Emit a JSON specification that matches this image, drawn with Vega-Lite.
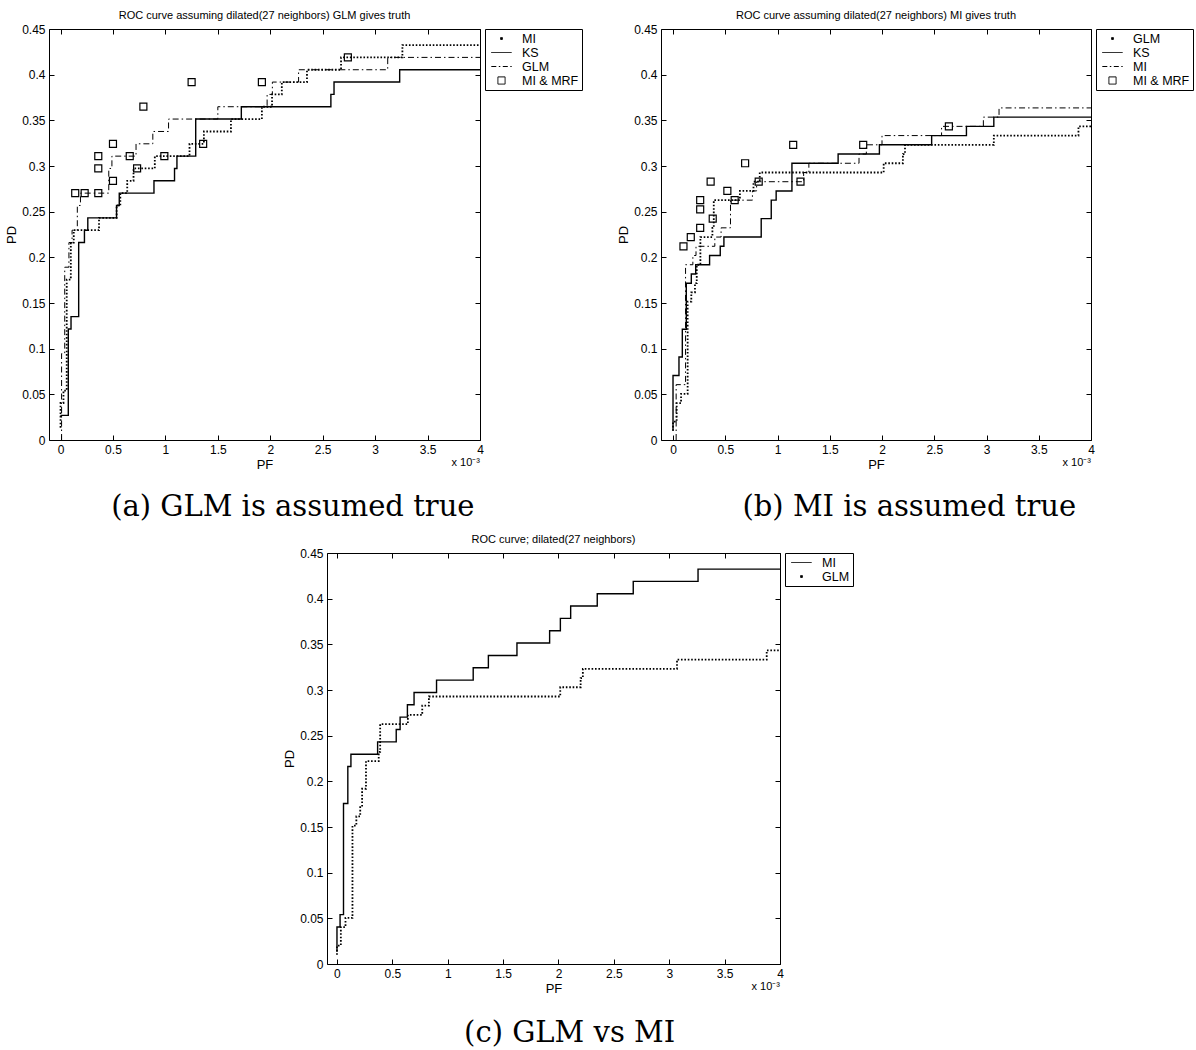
{
  "$schema": "https://vega.github.io/schema/vega-lite/v6.json",
  "background": "white",
  "padding": {"left": 5, "top": 9, "right": 0, "bottom": 0},
  "datasets": {
    "mi74": [{"pf":0,"pd":0.0135},{"pf":0,"pd":0.0405},{"pf":0.028,"pd":0.0541},{"pf":0.059,"pd":0.1757},{"pf":0.098,"pd":0.2162},{"pf":0.126,"pd":0.2297},{"pf":0.367,"pd":0.2432},{"pf":0.535,"pd":0.2568},{"pf":0.57,"pd":0.2703},{"pf":0.636,"pd":0.2838},{"pf":0.696,"pd":0.2973},{"pf":0.899,"pd":0.3108},{"pf":1.23,"pd":0.3243},{"pf":1.367,"pd":0.3378},{"pf":1.625,"pd":0.3514},{"pf":1.92,"pd":0.3649},{"pf":2.017,"pd":0.3784},{"pf":2.11,"pd":0.3919},{"pf":2.35,"pd":0.4054},{"pf":2.675,"pd":0.4189},{"pf":3.26,"pd":0.4324},{"pf":4,"pd":0.4324}],
    "glm99": [{"pf":0,"pd":0.0101},{"pf":0,"pd":0.0202},{"pf":0.035,"pd":0.0404},{"pf":0.077,"pd":0.0505},{"pf":0.14,"pd":0.1515},{"pf":0.175,"pd":0.1616},{"pf":0.21,"pd":0.1717},{"pf":0.227,"pd":0.1919},{"pf":0.262,"pd":0.2222},{"pf":0.377,"pd":0.2323},{"pf":0.39,"pd":0.2626},{"pf":0.64,"pd":0.2727},{"pf":0.77,"pd":0.2828},{"pf":0.83,"pd":0.2929},{"pf":2.016,"pd":0.303},{"pf":2.2,"pd":0.3131},{"pf":2.22,"pd":0.3232},{"pf":3.07,"pd":0.3333},{"pf":3.88,"pd":0.3434},{"pf":4,"pd":0.3434}],
    "ks_a": [{"pf":0,"pd":0.027},{"pf":0.074,"pd":0.1216},{"pf":0.1,"pd":0.1351},{"pf":0.173,"pd":0.2162},{"pf":0.228,"pd":0.2297},{"pf":0.26,"pd":0.2432},{"pf":0.534,"pd":0.2568},{"pf":0.56,"pd":0.2703},{"pf":0.891,"pd":0.2838},{"pf":1.087,"pd":0.2973},{"pf":1.11,"pd":0.3108},{"pf":1.289,"pd":0.3514},{"pf":1.724,"pd":0.3649},{"pf":2.578,"pd":0.3784},{"pf":2.608,"pd":0.3919},{"pf":3.234,"pd":0.4054},{"pf":4,"pd":0.4054}],
    "glm_a": [{"pf":0.01,"pd":0},{"pf":0.01,"pd":0.0946},{"pf":0.04,"pd":0.1892},{"pf":0.08,"pd":0.2162},{"pf":0.11,"pd":0.2297},{"pf":0.16,"pd":0.2568},{"pf":0.19,"pd":0.2703},{"pf":0.46,"pd":0.2973},{"pf":0.49,"pd":0.3108},{"pf":0.72,"pd":0.3243},{"pf":0.88,"pd":0.3378},{"pf":1.03,"pd":0.3514},{"pf":1.5,"pd":0.3649},{"pf":1.97,"pd":0.3784},{"pf":2.02,"pd":0.3919},{"pf":2.27,"pd":0.4054},{"pf":3.12,"pd":0.4189},{"pf":4,"pd":0.4189}],
    "mrf_a": [{"pf":0.14,"pd":0.2703},{"pf":0.23,"pd":0.2703},{"pf":0.36,"pd":0.2703},{"pf":0.36,"pd":0.2973},{"pf":0.36,"pd":0.3108},{"pf":0.5,"pd":0.3243},{"pf":0.5,"pd":0.2838},{"pf":0.66,"pd":0.3108},{"pf":0.73,"pd":0.2973},{"pf":0.79,"pd":0.3649},{"pf":0.99,"pd":0.3108},{"pf":1.25,"pd":0.3919},{"pf":1.36,"pd":0.3243},{"pf":1.92,"pd":0.3919},{"pf":2.74,"pd":0.4189}],
    "ks_b": [{"pf":0,"pd":0.0101},{"pf":0,"pd":0.0707},{"pf":0.057,"pd":0.0909},{"pf":0.089,"pd":0.1212},{"pf":0.127,"pd":0.1717},{"pf":0.175,"pd":0.1818},{"pf":0.217,"pd":0.1919},{"pf":0.35,"pd":0.202},{"pf":0.452,"pd":0.2121},{"pf":0.487,"pd":0.2222},{"pf":0.844,"pd":0.2424},{"pf":0.94,"pd":0.2626},{"pf":0.987,"pd":0.2727},{"pf":1.138,"pd":0.303},{"pf":1.58,"pd":0.3131},{"pf":1.975,"pd":0.3232},{"pf":2.475,"pd":0.3333},{"pf":2.808,"pd":0.3434},{"pf":3.07,"pd":0.3535},{"pf":4,"pd":0.3535}],
    "mi_b": [{"pf":0.03,"pd":0},{"pf":0.03,"pd":0.0606},{"pf":0.12,"pd":0.1919},{"pf":0.19,"pd":0.202},{"pf":0.22,"pd":0.2121},{"pf":0.4,"pd":0.2222},{"pf":0.46,"pd":0.2323},{"pf":0.55,"pd":0.2626},{"pf":0.76,"pd":0.2727},{"pf":0.8,"pd":0.2828},{"pf":1.25,"pd":0.2929},{"pf":1.3,"pd":0.303},{"pf":1.78,"pd":0.3131},{"pf":1.85,"pd":0.3232},{"pf":2.0,"pd":0.3333},{"pf":2.57,"pd":0.3434},{"pf":2.97,"pd":0.3535},{"pf":3.12,"pd":0.3636},{"pf":4,"pd":0.3636}],
    "mrf_b": [{"pf":0.1,"pd":0.2121},{"pf":0.17,"pd":0.2222},{"pf":0.26,"pd":0.2323},{"pf":0.26,"pd":0.2525},{"pf":0.26,"pd":0.2626},{"pf":0.36,"pd":0.2828},{"pf":0.38,"pd":0.2424},{"pf":0.52,"pd":0.2727},{"pf":0.59,"pd":0.2626},{"pf":0.69,"pd":0.303},{"pf":0.82,"pd":0.2828},{"pf":1.15,"pd":0.3232},{"pf":1.22,"pd":0.2828},{"pf":1.82,"pd":0.3232},{"pf":2.64,"pd":0.3434}]
  },
  "vconcat": [
    {
      "hconcat": [
        {
          "vconcat": [
            {
              "width": 431, "height": 411,
              "title": {"text": "ROC curve assuming dilated(27 neighbors) GLM gives truth", "anchor": "middle", "frame": "group", "offset": 2},
              "layer": [
                {
                  "data": {"name": "ks_a"},
                  "mark": {"type": "line", "interpolate": "step-after", "strokeWidth": 1.4},
                  "encoding": {
                    "x": {"field": "pf", "type": "quantitative", "scale": {"domain": [-0.11, 4], "nice": false, "zero": false}, "axis": {"orient": "bottom", "values": [0,0.5,1,1.5,2,2.5,3,3.5,4], "format": "~g", "title": "PF"}},
                    "y": {"field": "pd", "type": "quantitative", "scale": {"domain": [0, 0.45], "nice": false}, "axis": {"orient": "left", "values": [0,0.05,0.1,0.15,0.2,0.25,0.3,0.35,0.4,0.45], "format": "~g", "title": "PD"}},
                    "color": {"datum": "KS", "scale": {"domain": ["MI","KS","GLM","MI & MRF"], "range": ["black","black","black","black"]},
                      "legend": {"title": null, "orient": "right", "offset": 0,
                        "encode": {"symbols": {"update": {
                          "shape": {"signal": "datum.value === 'MI' ? 'M-0.15,-0.15H0.15V0.15H-0.15Z' : datum.value === 'MI & MRF' ? 'M-0.6,-0.6H0.6V0.6H-0.6Z' : 'M-1.7,0H1.7'"},
                          "fill": {"signal": "datum.value === 'MI' ? 'black' : 'transparent'"},
                          "strokeDash": {"signal": "datum.value === 'GLM' ? [5,2.5,1.5,2.5] : [1,0]"},
                          "stroke": {"value": "black"},
                          "strokeWidth": {"value": 1},
                          "opacity": {"value": 1}
                        }}}}}
                  }
                },
                {
                  "data": {"name": "glm_a"},
                  "mark": {"type": "line", "interpolate": "step-after", "strokeWidth": 1, "strokeDash": [6, 3, 1.5, 3]},
                  "encoding": {
                    "x": {"field": "pf", "type": "quantitative", "scale": {"domain": [-0.11, 4], "nice": false, "zero": false}, "axis": {"orient": "top", "values": [0,0.5,1,1.5,2,2.5,3,3.5,4], "labels": false, "title": null}},
                    "y": {"field": "pd", "type": "quantitative", "scale": {"domain": [0, 0.45], "nice": false}, "axis": {"orient": "right", "values": [0,0.05,0.1,0.15,0.2,0.25,0.3,0.35,0.4,0.45], "labels": false, "title": null}},
                    "color": {"datum": "GLM"}
                  }
                },
                {
                  "data": {"name": "mi74"},
                  "mark": {"type": "line", "interpolate": "step-after", "strokeWidth": 1.8, "strokeDash": [1.6, 1.8]},
                  "encoding": {
                    "x": {"field": "pf", "type": "quantitative", "axis": null},
                    "y": {"field": "pd", "type": "quantitative", "axis": null},
                    "color": {"datum": "MI"}
                  }
                },
                {
                  "data": {"name": "mrf_a"},
                  "mark": {"type": "point", "shape": "square", "filled": false, "size": 49, "strokeWidth": 1.2, "opacity": 1},
                  "encoding": {
                    "x": {"field": "pf", "type": "quantitative", "axis": null},
                    "y": {"field": "pd", "type": "quantitative", "axis": null},
                    "color": {"datum": "MI & MRF"}
                  }
                },
                {
                  "data": {"values": [{}]},
                  "mark": {"type": "text", "align": "right", "baseline": "top", "dy": 17, "fontSize": 11, "color": "black"},
                  "encoding": {
                    "x": {"datum": 4, "type": "quantitative", "axis": null},
                    "y": {"datum": 0, "type": "quantitative", "axis": null},
                    "text": {"value": "x 10⁻³"}
                  }
                }
              ],
              "resolve": {"axis": {"x": "independent", "y": "independent"}}
            }
          ],
          "title": {"text": "(a) GLM is assumed true", "orient": "bottom", "anchor": "middle", "font": "DejaVu Serif", "fontSize": 29, "fontWeight": "normal", "offset": 21, "dx": -1, "color": "black"}
        },
        {
          "vconcat": [
            {
              "width": 430, "height": 411,
              "title": {"text": "ROC curve assuming dilated(27 neighbors) MI gives truth", "anchor": "middle", "frame": "group", "offset": 2},
              "layer": [
                {
                  "data": {"name": "ks_b"},
                  "mark": {"type": "line", "interpolate": "step-after", "strokeWidth": 1.4},
                  "encoding": {
                    "x": {"field": "pf", "type": "quantitative", "scale": {"domain": [-0.115, 4], "nice": false, "zero": false}, "axis": {"orient": "bottom", "values": [0,0.5,1,1.5,2,2.5,3,3.5,4], "format": "~g", "title": "PF"}},
                    "y": {"field": "pd", "type": "quantitative", "scale": {"domain": [0, 0.45], "nice": false}, "axis": {"orient": "left", "values": [0,0.05,0.1,0.15,0.2,0.25,0.3,0.35,0.4,0.45], "format": "~g", "title": "PD"}},
                    "color": {"datum": "KS", "scale": {"domain": ["GLM","KS","MI","MI & MRF"], "range": ["black","black","black","black"]},
                      "legend": {"title": null, "orient": "right", "offset": 0,
                        "encode": {"symbols": {"update": {
                          "shape": {"signal": "datum.value === 'GLM' ? 'M-0.15,-0.15H0.15V0.15H-0.15Z' : datum.value === 'MI & MRF' ? 'M-0.6,-0.6H0.6V0.6H-0.6Z' : 'M-1.7,0H1.7'"},
                          "fill": {"signal": "datum.value === 'GLM' ? 'black' : 'transparent'"},
                          "strokeDash": {"signal": "datum.value === 'MI' ? [5,2.5,1.5,2.5] : [1,0]"},
                          "stroke": {"value": "black"},
                          "strokeWidth": {"value": 1},
                          "opacity": {"value": 1}
                        }}}}}
                  }
                },
                {
                  "data": {"name": "mi_b"},
                  "mark": {"type": "line", "interpolate": "step-after", "strokeWidth": 1, "strokeDash": [6, 3, 1.5, 3]},
                  "encoding": {
                    "x": {"field": "pf", "type": "quantitative", "scale": {"domain": [-0.115, 4], "nice": false, "zero": false}, "axis": {"orient": "top", "values": [0,0.5,1,1.5,2,2.5,3,3.5,4], "labels": false, "title": null}},
                    "y": {"field": "pd", "type": "quantitative", "scale": {"domain": [0, 0.45], "nice": false}, "axis": {"orient": "right", "values": [0,0.05,0.1,0.15,0.2,0.25,0.3,0.35,0.4,0.45], "labels": false, "title": null}},
                    "color": {"datum": "MI"}
                  }
                },
                {
                  "data": {"name": "glm99"},
                  "mark": {"type": "line", "interpolate": "step-after", "strokeWidth": 1.8, "strokeDash": [1.6, 1.8]},
                  "encoding": {
                    "x": {"field": "pf", "type": "quantitative", "axis": null},
                    "y": {"field": "pd", "type": "quantitative", "axis": null},
                    "color": {"datum": "GLM"}
                  }
                },
                {
                  "data": {"name": "mrf_b"},
                  "mark": {"type": "point", "shape": "square", "filled": false, "size": 49, "strokeWidth": 1.2, "opacity": 1},
                  "encoding": {
                    "x": {"field": "pf", "type": "quantitative", "axis": null},
                    "y": {"field": "pd", "type": "quantitative", "axis": null},
                    "color": {"datum": "MI & MRF"}
                  }
                },
                {
                  "data": {"values": [{}]},
                  "mark": {"type": "text", "align": "right", "baseline": "top", "dy": 17, "fontSize": 11, "color": "black"},
                  "encoding": {
                    "x": {"datum": 4, "type": "quantitative", "axis": null},
                    "y": {"datum": 0, "type": "quantitative", "axis": null},
                    "text": {"value": "x 10⁻³"}
                  }
                }
              ],
              "resolve": {"axis": {"x": "independent", "y": "independent"}}
            }
          ],
          "title": {"text": "(b) MI is assumed true", "orient": "bottom", "anchor": "middle", "font": "DejaVu Serif", "fontSize": 29, "fontWeight": "normal", "offset": 21, "dx": 4, "color": "black"}
        }
      ],
      "spacing": 34,
      "resolve": {"scale": {"color": "independent"}, "legend": {"color": "independent"}}
    },
    {
      "hconcat": [
        {
          "width": 234, "height": 1,
          "data": {"values": [{"pf": 0}]},
          "mark": {"type": "text", "text": ""},
          "encoding": {}
        },
        {
          "vconcat": [
            {
              "width": 453, "height": 411,
              "title": {"text": "ROC curve; dilated(27 neighbors)", "anchor": "middle", "frame": "group", "offset": 2},
              "layer": [
                {
                  "data": {"name": "mi74"},
                  "mark": {"type": "line", "interpolate": "step-after", "strokeWidth": 1.4},
                  "encoding": {
                    "x": {"field": "pf", "type": "quantitative", "scale": {"domain": [-0.09, 4], "nice": false, "zero": false}, "axis": {"orient": "bottom", "values": [0,0.5,1,1.5,2,2.5,3,3.5,4], "format": "~g", "title": "PF"}},
                    "y": {"field": "pd", "type": "quantitative", "scale": {"domain": [0, 0.45], "nice": false}, "axis": {"orient": "left", "values": [0,0.05,0.1,0.15,0.2,0.25,0.3,0.35,0.4,0.45], "format": "~g", "title": "PD"}},
                    "color": {"datum": "MI", "scale": {"domain": ["MI","GLM"], "range": ["black","black"]},
                      "legend": {"title": null, "orient": "right", "offset": 0,
                        "encode": {"symbols": {"update": {
                          "shape": {"signal": "datum.value === 'GLM' ? 'M-0.15,-0.15H0.15V0.15H-0.15Z' : 'M-1.7,0H1.7'"},
                          "fill": {"signal": "datum.value === 'GLM' ? 'black' : 'transparent'"},
                          "strokeDash": {"value": [1, 0]},
                          "stroke": {"value": "black"},
                          "strokeWidth": {"value": 1},
                          "opacity": {"value": 1}
                        }}}}}
                  }
                },
                {
                  "data": {"name": "glm99"},
                  "mark": {"type": "line", "interpolate": "step-after", "strokeWidth": 1.8, "strokeDash": [1.6, 1.8]},
                  "encoding": {
                    "x": {"field": "pf", "type": "quantitative", "scale": {"domain": [-0.09, 4], "nice": false, "zero": false}, "axis": {"orient": "top", "values": [0,0.5,1,1.5,2,2.5,3,3.5,4], "labels": false, "title": null}},
                    "y": {"field": "pd", "type": "quantitative", "scale": {"domain": [0, 0.45], "nice": false}, "axis": {"orient": "right", "values": [0,0.05,0.1,0.15,0.2,0.25,0.3,0.35,0.4,0.45], "labels": false, "title": null}},
                    "color": {"datum": "GLM"}
                  }
                },
                {
                  "data": {"values": [{}]},
                  "mark": {"type": "text", "align": "right", "baseline": "top", "dy": 17, "fontSize": 11, "color": "black"},
                  "encoding": {
                    "x": {"datum": 4, "type": "quantitative", "axis": null},
                    "y": {"datum": 0, "type": "quantitative", "axis": null},
                    "text": {"value": "x 10⁻³"}
                  }
                }
              ],
              "resolve": {"axis": {"x": "independent", "y": "independent"}}
            }
          ],
          "title": {"text": "(c) GLM vs MI", "orient": "bottom", "anchor": "middle", "font": "DejaVu Serif", "fontSize": 29, "fontWeight": "normal", "offset": 23, "dx": 36, "color": "black"}
        }
      ],
      "spacing": 0
    }
  ],
  "spacing": 11,
  "resolve": {"scale": {"color": "independent"}, "legend": {"color": "independent"}},
  "config": {
    "font": "Liberation Sans",
    "view": {"stroke": "black", "strokeWidth": 1},
    "axis": {"grid": false, "domain": false, "ticks": true, "tickSize": -5, "tickColor": "black", "tickWidth": 1, "labelPadding": 9, "labelFont": "Liberation Sans", "labelFontSize": 12, "labelColor": "black", "labelFlush": false, "labelOverlap": false, "titleFont": "Liberation Sans", "titleFontSize": 13, "titleFontWeight": "normal", "titleColor": "black", "titlePadding": 3},
    "title": {"font": "Liberation Sans", "fontSize": 11, "fontWeight": "normal", "color": "black"},
    "legend": {"strokeColor": "black", "fillColor": "white", "padding": 3, "symbolSize": 144, "symbolOffset": 7, "labelOffset": 14, "rowPadding": 1, "labelFont": "Liberation Sans", "labelFontSize": 12.5, "labelColor": "black", "cornerRadius": 0}
  }
}
